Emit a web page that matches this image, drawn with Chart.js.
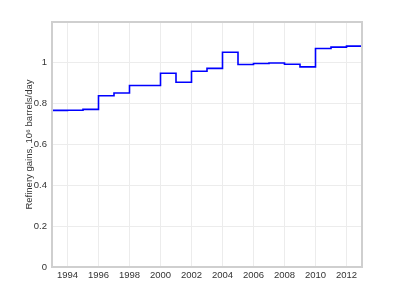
<!DOCTYPE html>
<html>
<head>
<meta charset="utf-8">
<script src="https://cdn.jsdelivr.net/npm/chart.js@4/dist/chart.umd.min.js"></script>
<style>
  html, body { margin: 0; padding: 0; background: #fff; }
  #wrap { width: 400px; height: 300px; }
</style>
</head>
<body>
<div id="wrap"><canvas id="graphe" width="400" height="300"></canvas></div>
<script>
// annees et gains de raffinerie (millions de barils/jour)
const annees = [1993, 1994, 1995, 1996, 1997, 1998, 1999, 2000, 2001, 2002, 2003, 2004, 2005, 2006, 2007, 2008, 2009, 2010, 2011, 2012, 2013]
const gains = [0.767, 0.768, 0.772, 0.839, 0.852, 0.889, 0.889, 0.949, 0.905, 0.959, 0.973, 1.052, 0.992, 0.997, 0.999, 0.993, 0.980, 1.070, 1.077, 1.082, 1.082]
const ticksX = [1994, 1996, 1998, 2000, 2002, 2004, 2006, 2008, 2010, 2012]
const ticksY = [0, 0.2, 0.4, 0.6, 0.8, 1]

const points = annees.map((a, i) => ({ x: a, y: gains[i] }))

// cadre gris autour de la zone du graphe
const cadre = {
  id: 'cadre',
  afterDraw(chart) {
    const c = chart.chartArea
    const ctx = chart.ctx
    ctx.save()
    ctx.strokeStyle = '#cfcfcf'
    ctx.lineWidth = 2
    ctx.strokeRect(c.left, c.top, c.right - c.left, c.bottom - c.top)
    ctx.restore()
  }
}

Chart.defaults.font.family = "'Liberation Sans', Arial, sans-serif"
Chart.defaults.font.size = 9.5
Chart.defaults.color = '#333'

new Chart(document.getElementById('graphe'), {
  type: 'line',
  data: {
    datasets: [{
      data: points,
      borderColor: '#0000ff',
      borderWidth: 1.6,
      stepped: 'before',
      pointRadius: 0,
      fill: false
    }]
  },
  options: {
    responsive: false,
    animation: false,
    layout: { padding: { left: 0, top: 22, right: 38, bottom: 0 } },
    plugins: { legend: { display: false }, tooltip: { enabled: false } },
    scales: {
      x: {
        type: 'linear',
        min: 1993,
        max: 2013,
        afterBuildTicks: s => { s.ticks = ticksX.map(v => ({ value: v })) },
        afterFit: s => { s.height = 33 },
        ticks: { padding: 3, maxRotation: 0, callback: v => String(v) },
        grid: { color: '#ececec', drawTicks: false },
        border: { display: false }
      },
      y: {
        min: 0,
        max: 1.2,
        afterBuildTicks: s => { s.ticks = ticksY.map(v => ({ value: v })) },
        afterFit: s => { s.width = 52 },
        ticks: { padding: 5, callback: v => String(Math.round(v * 10) / 10) },
        grid: { color: '#ececec', drawTicks: false },
        border: { display: false },
        title: { display: true, text: 'Refinery gains, 10⁶ barrels/day', padding: { top: 24, bottom: 0 } }
      }
    }
  },
  plugins: [cadre]
})
</script>
</body>
</html>
